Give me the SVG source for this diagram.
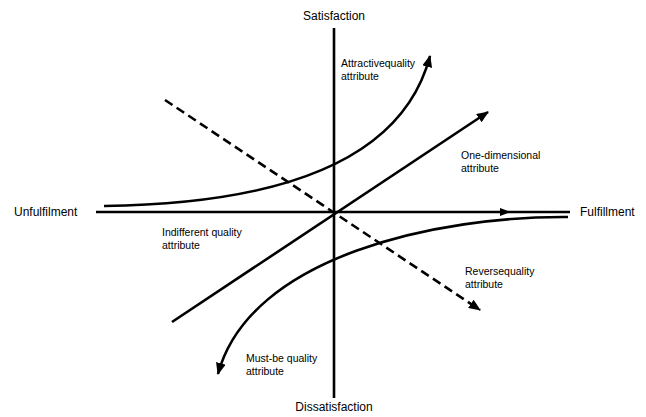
<svg xmlns="http://www.w3.org/2000/svg" width="646" height="417" viewBox="0 0 646 417">
<style>
.ln{fill:none;stroke:#000;stroke-width:2.6}
.ds{fill:none;stroke:#000;stroke-width:2.6;stroke-dasharray:9,5}
.ax{font-family:"Liberation Sans",Arial,sans-serif;font-size:12px;fill:#000}
.lb{font-family:"Liberation Sans",Arial,sans-serif;font-size:10.5px;fill:#000}
</style>
<defs>
<marker id="ah" markerUnits="userSpaceOnUse" markerWidth="12" markerHeight="10" refX="11" refY="5" orient="auto">
<path d="M0,0 L12,5 L0,10 Z" fill="#000"/>
</marker>
</defs>
<rect width="646" height="417" fill="#fff"/>
<g id="connectors">
<line id="vaxis" class="ln" x1="334" y1="28" x2="334" y2="398"/>
<line id="haxis" class="ln" x1="96" y1="212" x2="570" y2="212"/>
<path d="M500,208 L511,212 L500,216 Z" fill="#000"/>
<path id="attractive" class="ln" d="M104,206 C260,204 400,170 430,56" marker-end="url(#ah)"/>
<line id="onedim" class="ln" x1="172" y1="322" x2="488" y2="112" marker-end="url(#ah)"/>
<line id="reverse" class="ds" x1="165" y1="100" x2="480" y2="310" marker-end="url(#ah)"/>
<path id="mustbe" class="ln" d="M568,217 C440,216 250,255 218,374" marker-end="url(#ah)"/>
</g>
<g id="satisfaction"><text class="ax" x="334" y="20" text-anchor="middle">Satisfaction</text></g>
<g id="dissatisfaction"><text class="ax" x="334" y="411" text-anchor="middle">Dissatisfaction</text></g>
<g id="unfulfilment"><text class="ax" x="14" y="216">Unfulfilment</text></g>
<g id="fulfillment"><text class="ax" x="580" y="216">Fulfillment</text></g>
<g id="attractive-label"><text class="lb" x="341" y="67">Attractivequality</text><text class="lb" x="341" y="80">attribute</text></g>
<g id="onedim-label"><text class="lb" x="461" y="159">One-dimensional</text><text class="lb" x="461" y="172">attribute</text></g>
<g id="indifferent-label"><text class="lb" x="162" y="236">Indifferent quality</text><text class="lb" x="162" y="249">attribute</text></g>
<g id="reverse-label"><text class="lb" x="465" y="275">Reversequality</text><text class="lb" x="465" y="288">attribute</text></g>
<g id="mustbe-label"><text class="lb" x="246" y="362">Must-be quality</text><text class="lb" x="246" y="375">attribute</text></g>
</svg>
